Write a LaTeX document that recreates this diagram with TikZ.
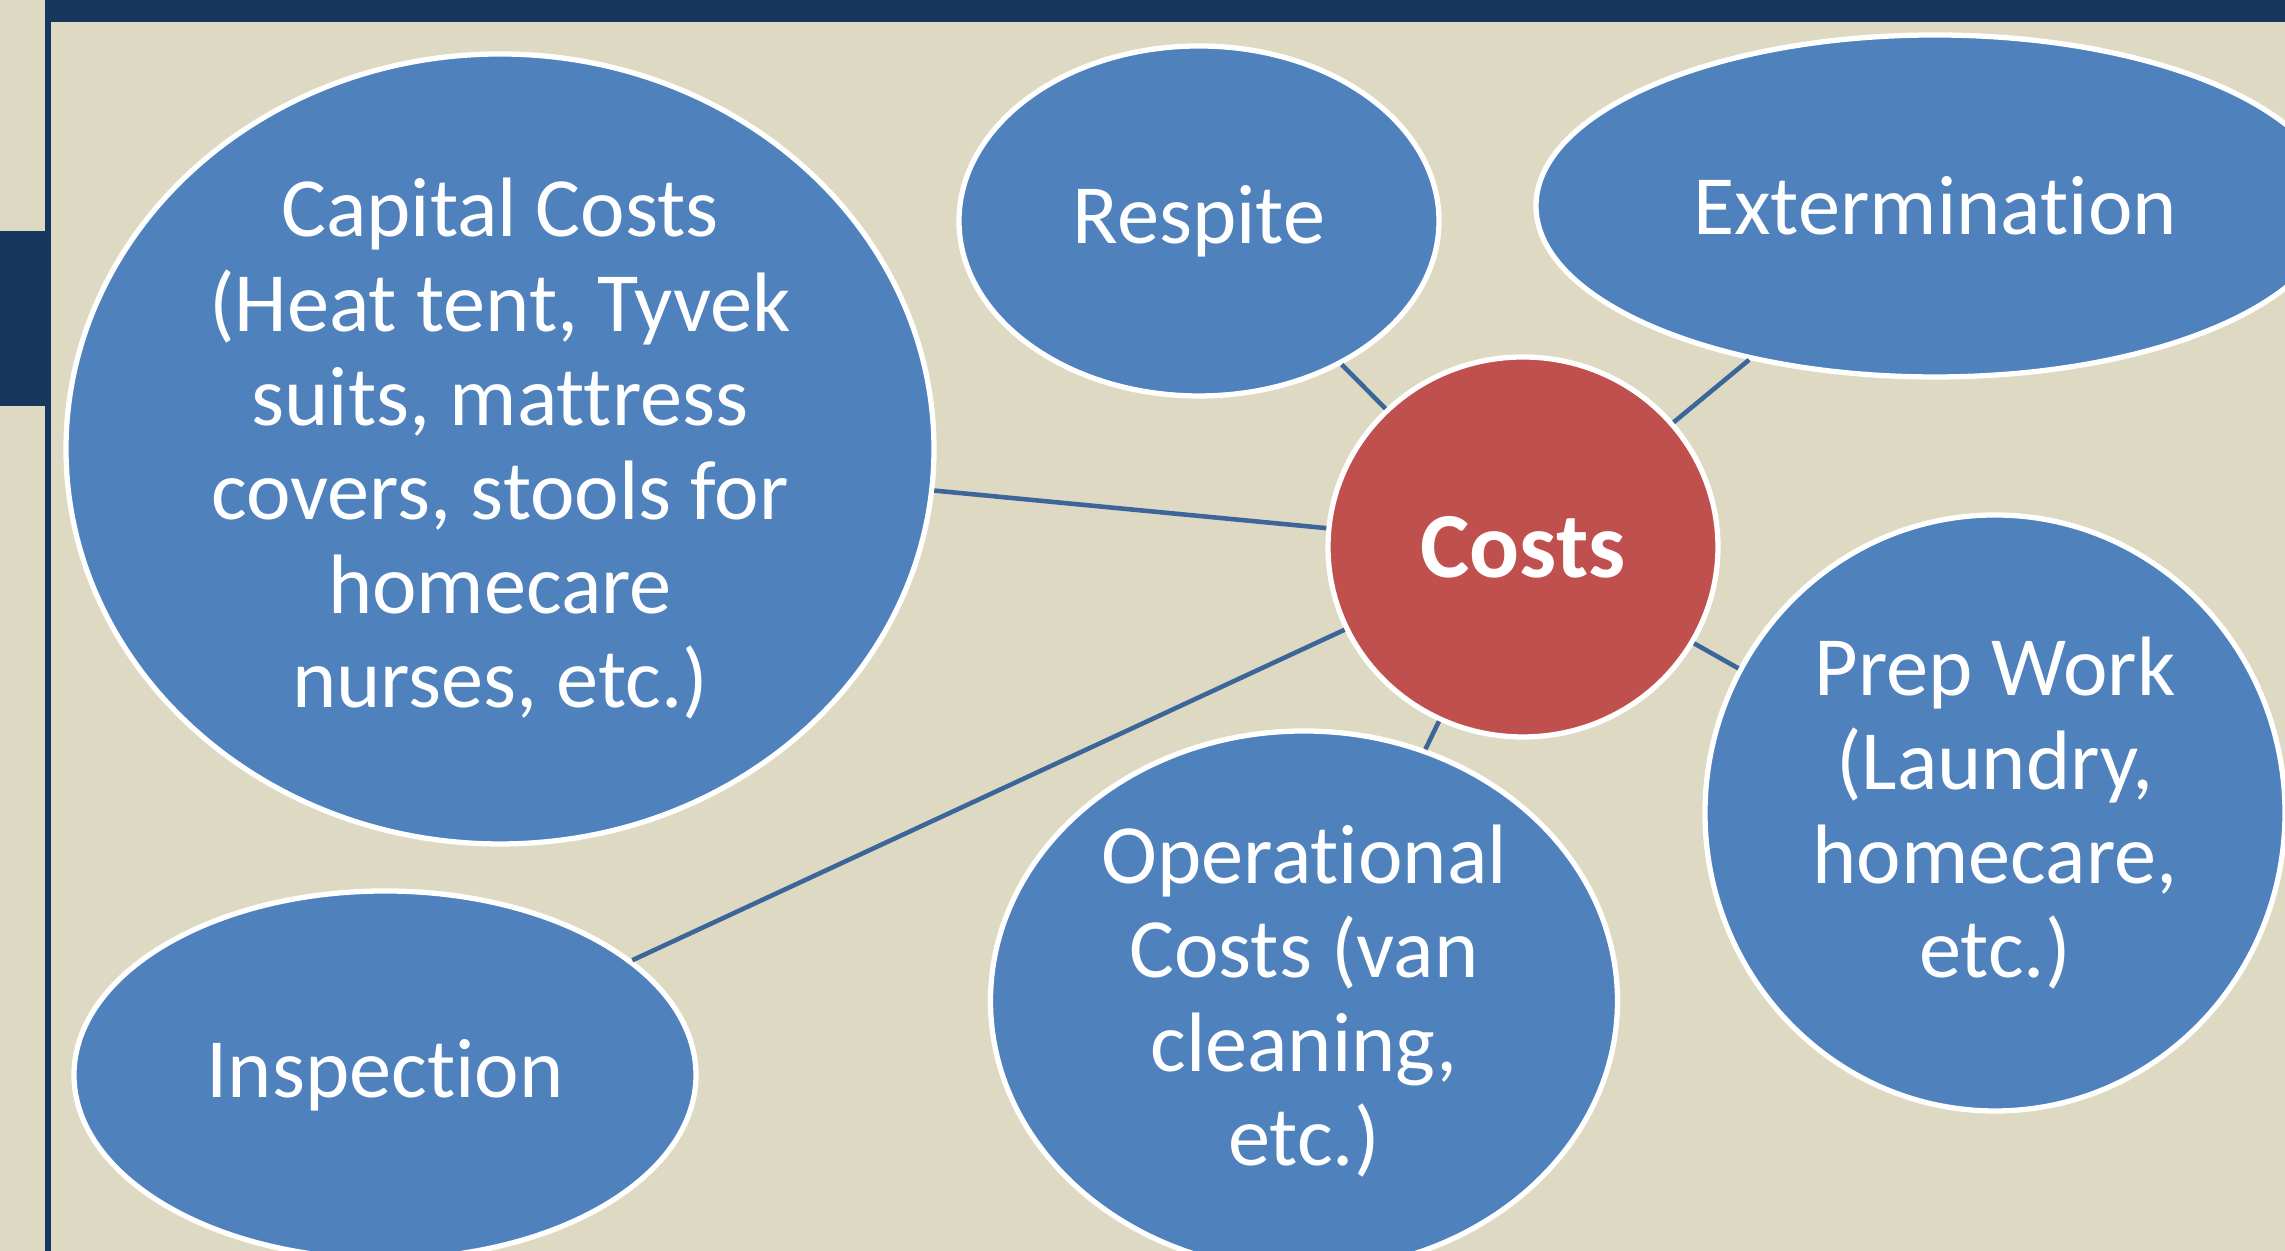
\documentclass[tikz,border=0pt]{standalone}
\usepackage{fontspec}
\setmainfont{Carlito}[RawFeature={-liga;-clig;-dlig;-calt;-rlig}]
\usetikzlibrary{shapes.geometric}
\definecolor{paper}{HTML}{DDD9C3}
\definecolor{navy}{HTML}{17375E}
\definecolor{bubblefill}{HTML}{4F81BD}
\definecolor{hubfill}{HTML}{C0504D}
\definecolor{linkcol}{HTML}{3C669A}

\begin{document}
\begin{tikzpicture}[
  bubble/.style={ellipse,fill=bubblefill,draw=white,line width=1.5pt,inner sep=0pt,align=center,text=white,font=\fontsize{24}{26.8}\selectfont},
  hub/.style={bubble,fill=hubfill,font=\fontsize{26.5}{30}\selectfont\bfseries},
  link/.style={draw=linkcol,line width=1.3pt}]
\useasboundingbox (0,0) rectangle (22.85,12.51);
\clip (0,0) rectangle (22.85,12.51);

% slide background
\fill[paper] (0,0) rectangle (22.85,12.51);
\fill[navy] (0.45,12.29) rectangle (22.85,12.51);
\fill[navy] (0.45,0) rectangle (0.51,12.51);
\fill[navy] (0,8.45) rectangle (0.45,10.20);

\node[hub,minimum width=3.90cm,minimum height=3.80cm] (costs) at (15.23,7.04) {Costs};

\node[bubble,minimum width=8.68cm,minimum height=7.90cm] (capital) at (5.00,8.02) {Capital Costs\\(Heat tent, Tyvek\\suits, mattress\\covers, stools for\\homecare\\nurses, etc.)};
\node[bubble,minimum width=4.80cm,minimum height=3.50cm] (respite) at (11.99,10.30) {Respite};
\node[bubble,minimum width=7.98cm,minimum height=3.42cm] (extermination) at (19.35,10.45) {Extermination};
\node[bubble,minimum width=5.80cm,minimum height=5.96cm] (prep) at (19.95,4.38) {Prep Work\\(Laundry,\\homecare,\\etc.)};
\node[bubble,minimum width=6.27cm,minimum height=5.40cm] (operational) at (13.04,2.50) {Operational\\Costs (van\\cleaning,\\etc.)};
\node[bubble,minimum width=6.22cm,minimum height=3.68cm] (inspection) at (3.85,1.76) {Inspection};

\draw[link] (costs) -- (capital);
\draw[link] (costs) -- (respite);
\draw[link] (costs) -- (extermination);
\draw[link] (costs) -- (prep);
\draw[link] (costs) -- (operational);
\draw[link] (costs) -- (inspection);

\end{tikzpicture}
\end{document}
